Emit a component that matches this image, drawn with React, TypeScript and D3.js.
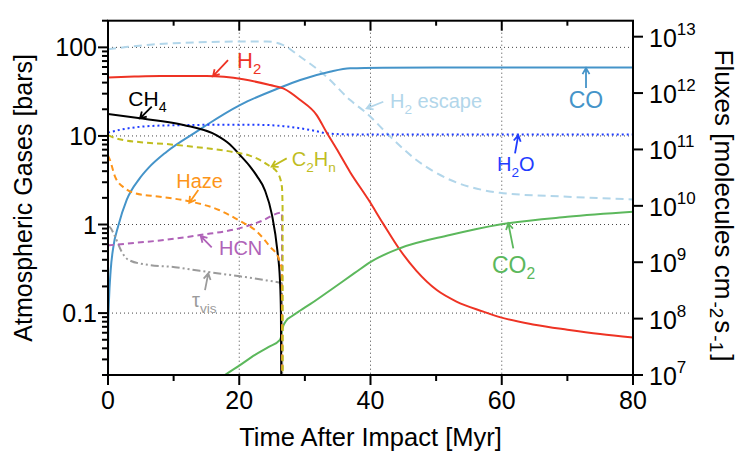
import React from "react";
import * as d3 from "d3";

// ---------- data ----------
type P = [number, number];

const H2: P[] = [[0,45.8],[4,46.8],[8,47.4],[15,47.4],[20.6,43.6],[24.7,37.5],[26.7,34.4],[29.3,25.4],[31.8,17.2],[33.3,11.0],[34.8,7.2],[36.9,3.9],[39.7,1.9],[41.9,1.03],[44.5,0.515],[47,0.30],[50.1,0.182],[53.1,0.135],[57.2,0.104],[59.7,0.09],[65,0.074],[70,0.065],[75,0.058],[80,0.053]];
const CH4: P[] = [[0,17.7],[4.9,15.8],[11.5,13.3],[16.5,10.2],[18.5,8.1],[20.1,6.1],[21.6,4.57],[22.7,3.52],[23.9,2.45],[25.0,1.27],[25.8,0.515],[26.2,0.236],[26.35,0.1],[26.4,0.02]];
const C2Hn: P[] = [[0,10.2],[1,9.5],[2.3,9.0],[5,8.5],[8.9,8.1],[14,7.4],[19,6.6],[21.6,6.0],[22.4,5.7],[24.4,4.69],[25.9,3.78],[26.5,2.67],[26.6,1.59],[26.62,0.02]];
const Haze: P[] = [[0,6.0],[0.3,5.35],[1.07,3.47],[2.6,2.56],[4.1,2.25],[7.9,2.06],[12.5,1.82],[16.9,1.46],[19.9,1.12],[22.7,0.83],[24.7,0.56],[26,0.415],[26.5,0.305],[26.55,0.02]];
const HCN: P[] = [[0,0.58],[4,0.62],[7.9,0.66],[14,0.76],[20.1,0.91],[23.2,1.08],[26.5,1.36],[26.55,0.02]];
const TauVis: P[] = [[0,0.95],[0.3,0.93],[1.07,0.73],[2.1,0.49],[3.1,0.4],[6.1,0.35],[10.2,0.33],[14,0.3],[20.1,0.26],[24,0.235],[26.5,0.217],[26.55,0.02]];
const CO: P[] = [[0,0.02],[0.05,0.08],[0.15,0.14],[0.4,0.3],[0.8,0.55],[1.57,0.97],[2.85,1.9],[4.8,3.3],[6.1,4.3],[8.9,6.6],[13.9,11.7],[15.5,14.0],[20.1,22.3],[26.2,35],[29.3,42.8],[33.8,53],[36.9,58],[41.9,59],[50,59.3],[80,59.3]];
const H2O: P[] = [[0,10.9],[2,11.8],[5,12.7],[10,13.2],[20,13.4],[24,13.3],[26.7,12.9],[30.8,11.7],[33.8,10.6],[36.9,10.4],[80,10.4]];
const CO2: P[] = [[17.8,0.02],[20,0.0255],[22.4,0.0337],[24.5,0.0415],[26.2,0.0497],[26.4,0.055],[26.6,0.068],[27.1,0.081],[28,0.092],[29.3,0.107],[30.8,0.126],[34.3,0.191],[37.6,0.284],[40.1,0.382],[44.5,0.54],[52.1,0.76],[59.7,1.0],[70,1.22],[80,1.39]];
const H2Escape: P[] = [[0,5.98e12],[3,6.6e12],[6.4,7.2e12],[13,7.9e12],[21.6,8.2e12],[24.2,8.2e12],[26.7,7.1e12],[29.3,4.4e12],[33.3,1.95e12],[36.9,7.5e11],[39.4,4.4e11],[43,1.69e11],[47,6.5e10],[52.1,2.9e10],[57.2,1.9e10],[59.7,1.7e10],[70,1.45e10],[80,1.3e10]];

const xMajor = [0, 20, 40, 60, 80];
const xMinor = [10, 30, 50, 70];
const yLeftMajor = [0.1, 1, 10, 100];
const yLeftLabels = ["0.1", "1", "10", "100"];
const yRightExp = [7, 8, 9, 10, 11, 12, 13];

// annotation: label segments [text, isSub], text anchor point, arrow tail, arrow head (data coords)
type Ann = { seg: [string, boolean][]; color: string; size: number; anchor: string; at: P; tail: P; head: P };
const annotations: Ann[] = [
  { seg: [["H", false], ["2", true]], color: "#ee3324", size: 22, anchor: "start", at: [19.66, 58.4], tail: [18.29, 71.9], head: [16.0, 47.4] },
  { seg: [["CH", false], ["4", true]], color: "#000000", size: 21, anchor: "start", at: [3.1, 21.8], tail: [6.66, 21.4], head: [4.88, 15.8] },
  { seg: [["Haze", false]], color: "#fd951a", size: 20, anchor: "start", at: [10.4, 2.58], tail: [13.76, 2.45], head: [12.39, 1.76] },
  { seg: [["C", false], ["2", true], ["H", false], ["n", true]], color: "#c0bd1f", size: 20, anchor: "start", at: [27.99, 4.57], tail: [27.23, 5.58], head: [24.94, 4.49] },
  { seg: [["H", false], ["2", true], [" escape", false]], color: "#b2d6ea", size: 20, anchor: "start", at: [42.97, 20.6], tail: [41.95, 24.3], head: [39.42, 20.5] },
  { seg: [["CO", false]], color: "#4594c9", size: 23, anchor: "middle", at: [72.84, 20.6], tail: [72.84, 34.7], head: [72.84, 58.4] },
  { seg: [["H", false], ["2", true], ["O", false]], color: "#1f3cff", size: 20, anchor: "start", at: [59.28, 4.02], tail: [62.02, 6.36], head: [62.52, 10.2] },
  { seg: [["CO", false], ["2", true]], color: "#5cb85c", size: 23, anchor: "start", at: [58.51, 0.284], tail: [61.76, 0.538], head: [61.0, 1.03] },
  { seg: [["HCN", false]], color: "#b063b8", size: 20, anchor: "start", at: [16.91, 0.453], tail: [15.8, 0.553], head: [14.13, 0.741] },
  { seg: [["τ", false], ["vis", true]], color: "#9b9b9b", size: 20, anchor: "start", at: [12.8, 0.117], tail: [14.78, 0.182], head: [15.28, 0.281] },
];

// ---------- layout ----------
const W = 747, H = 463;
const L = 108, R = 633, T = 20.7, B = 375;
const FONT = "'Liberation Sans', Arial, Helvetica, sans-serif";

const x = d3.scaleLinear().domain([0, 80]).range([L, R]);
const yL = d3.scaleLog().domain([0.02, 200]).range([B, T]);
const yR = d3.scaleLog().domain([1e7, 1.92e13]).range([B, T]);

const lineL = d3.line<P>().x(d => x(d[0])).y(d => yL(d[1])).curve(d3.curveMonotoneX);
const lineR = d3.line<P>().x(d => x(d[0])).y(d => yR(d[1])).curve(d3.curveMonotoneX);

const leftMinor: number[] = [];
for (let e = -2; e <= 2; e++) for (let m = 2; m <= 9; m++) {
  const v = m * Math.pow(10, e);
  if (v >= 0.02 && v <= 200) leftMinor.push(v);
}

function Label({ a }: { a: Ann }) {
  const subSize = a.size * 0.68;
  const shift = a.size * 0.28;
  let cur = 0;
  return (
    <text x={x(a.at[0])} y={yL(a.at[1])} fill={a.color} fontSize={a.size} textAnchor={a.anchor} fontFamily={FONT}>
      {a.seg.map(([s, sub], i) => {
        const target = sub ? shift : 0;
        const dy = target - cur;
        cur = target;
        return (
          <tspan key={i} dy={dy} fontSize={sub ? subSize : a.size}>{s}</tspan>
        );
      })}
    </text>
  );
}

function Arrow({ a }: { a: Ann }) {
  const x0 = x(a.tail[0]), y0 = yL(a.tail[1]);
  const x1 = x(a.head[0]), y1 = yL(a.head[1]);
  const ang = Math.atan2(y1 - y0, x1 - x0);
  const hl = 7, ha = Math.PI / 6;
  const p1 = [x1 - hl * Math.cos(ang - ha), y1 - hl * Math.sin(ang - ha)];
  const p2 = [x1 - hl * Math.cos(ang + ha), y1 - hl * Math.sin(ang + ha)];
  const d = `M${x0},${y0}L${x1},${y1}M${p1[0]},${p1[1]}L${x1},${y1}L${p2[0]},${p2[1]}`;
  return <path d={d} stroke={a.color} strokeWidth={1.8} fill="none" />;
}

export default function App() {
  const series = [
    { d: H2Escape, r: true, c: "#b2d6ea", dash: "8,5", w: 2 },
    { d: CO, r: false, c: "#4594c9", dash: "", w: 2 },
    { d: H2O, r: false, c: "#1f3cff", dash: "2,3", w: 2 },
    { d: H2, r: false, c: "#ee3324", dash: "", w: 2 },
    { d: CO2, r: false, c: "#5cb85c", dash: "", w: 2 },
    { d: TauVis, r: false, c: "#9b9b9b", dash: "8,3,2,3,2,3", w: 2 },
    { d: CH4, r: false, c: "#000000", dash: "", w: 2 },
    { d: HCN, r: false, c: "#b063b8", dash: "6,4", w: 2 },
    { d: Haze, r: false, c: "#fd951a", dash: "6,4", w: 2 },
    { d: C2Hn, r: false, c: "#c0bd1f", dash: "6,4", w: 2 },
  ];
  return (
    <svg width={W} height={H} style={{ position: "absolute", left: 0, top: 0, background: "#fff" }} fontFamily={FONT}>
      <defs>
        <clipPath id="plot"><rect x={L} y={T} width={R - L} height={B - T} /></clipPath>
      </defs>
      {/* grid */}
      <g stroke="#444" strokeWidth={1} strokeDasharray="1,3">
        {xMajor.filter(v => v > 0 && v < 80).map(v => <line key={"gx" + v} x1={x(v)} x2={x(v)} y1={T} y2={B} />)}
        {yLeftMajor.map(v => <line key={"gy" + v} x1={L} x2={R} y1={yL(v)} y2={yL(v)} />)}
      </g>
      {/* series */}
      <g clipPath="url(#plot)" fill="none">
        {series.map((s, i) => (
          <path key={i} d={(s.r ? lineR : lineL)(s.d) || ""} stroke={s.c} strokeWidth={s.w} strokeDasharray={s.dash || undefined} />
        ))}
      </g>
      {/* annotations */}
      {annotations.map((a, i) => <g key={i}><Arrow a={a} /><Label a={a} /></g>)}
      {/* frame */}
      <rect x={L} y={T} width={R - L} height={B - T} fill="none" stroke="#000" strokeWidth={2} />
      {/* ticks */}
      <g stroke="#000" strokeWidth={2}>
        {xMajor.map(v => <line key={"xb" + v} x1={x(v)} x2={x(v)} y1={B} y2={B + 10} />)}
        {xMinor.map(v => <line key={"xbm" + v} x1={x(v)} x2={x(v)} y1={B} y2={B + 6} />)}
        {xMajor.map(v => <line key={"xt" + v} x1={x(v)} x2={x(v)} y1={T} y2={T + 10} />)}
        {xMinor.map(v => <line key={"xtm" + v} x1={x(v)} x2={x(v)} y1={T} y2={T + 5} />)}
        {yLeftMajor.map(v => <line key={"yl" + v} x1={L - 10} x2={L} y1={yL(v)} y2={yL(v)} />)}
        {leftMinor.map(v => <line key={"ylm" + v} x1={L - 6} x2={L} y1={yL(v)} y2={yL(v)} />)}
        {yRightExp.map(e => <line key={"yr" + e} x1={R} x2={R + 10} y1={yR(Math.pow(10, e))} y2={yR(Math.pow(10, e))} />)}
      </g>
      {/* tick labels */}
      <g fontSize={25} fill="#000">
        {xMajor.map(v => <text key={"xl" + v} x={x(v)} y={B + 34} textAnchor="middle">{v}</text>)}
        {yLeftMajor.map((v, i) => <text key={"yll" + v} x={L - 11} y={yL(v) + 9} textAnchor="end">{yLeftLabels[i]}</text>)}
        {yRightExp.map(e => (
          <text key={"yrl" + e} x={R + 16} y={yR(Math.pow(10, e)) + 10}>
            10<tspan fontSize={17} dy={-12}>{e}</tspan>
          </text>
        ))}
      </g>
      {/* axis titles */}
      <text x={x(40)} y={446} textAnchor="middle" fontSize={25.5}>Time After Impact [Myr]</text>
      <text transform={`translate(32,${(T + B) / 2}) rotate(-90)`} textAnchor="middle" fontSize={25}>Atmospheric Gases [bars]</text>
      <text transform={`translate(715,205.5) rotate(90)`} textAnchor="middle" fontSize={26}>
        Fluxes [molecules cm<tspan fontSize={19} dx={2} dy={5}>-2</tspan><tspan dx={2} dy={-5}>s</tspan><tspan fontSize={19} dx={2} dy={5}>-1</tspan><tspan dx={2} dy={-5}>]</tspan>
      </text>
    </svg>
  );
}
